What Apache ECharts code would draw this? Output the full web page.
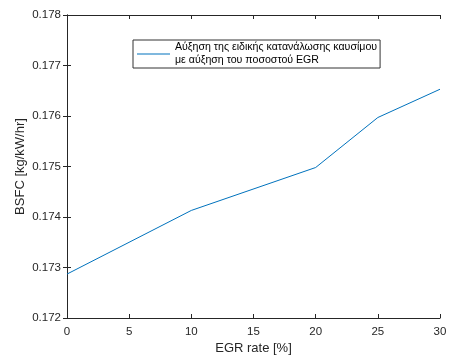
<!DOCTYPE html>
<html><head><meta charset="utf-8">
<script src="https://cdn.jsdelivr.net/npm/echarts@6/dist/echarts.min.js"></script>
<style>html,body{margin:0;padding:0;background:#fff}#c{width:452px;height:358px}</style>
</head><body><div id="c"></div>
<script>
const egrRate = [0, 10, 20, 25, 30];
const bsfc = [0.17287, 0.17413, 0.17498, 0.17597, 0.17653];
const seriesName = 'Αύξηση της ειδικής κατανάλωσης καυσίμου\nμε αύξηση του ποσοστού EGR';
const xName = 'EGR rate [%]';
const yName = 'BSFC [kg/kW/hr]';

const axisColor = '#262626';
const font = 'Liberation Sans, Arial, sans-serif';
const chart = echarts.init(document.getElementById('c'), null, {renderer: 'canvas'});
const baseX = {type: 'value', min: 0, max: 30, interval: 5,
  axisLine: {show: true, lineStyle: {color: axisColor, width: 1}},
  axisTick: {show: true, inside: true, length: 4, lineStyle: {color: axisColor}},
  splitLine: {show: false}};
const baseY = {type: 'value', min: 0.172, max: 0.178, interval: 0.001,
  axisLine: {show: true, lineStyle: {color: axisColor, width: 1}},
  axisTick: {show: true, inside: true, length: 4, lineStyle: {color: axisColor}},
  splitLine: {show: false}};
chart.setOption({
  animation: false,
  backgroundColor: '#fff',
  grid: {left: 67, right: 12, top: 15, bottom: 40, containLabel: false, outerBoundsMode: 'none'},
  xAxis: [
    Object.assign({}, baseX, {position: 'bottom', name: xName, nameLocation: 'middle', nameGap: 24,
      nameMoveOverlap: false,
      nameTextStyle: {color: axisColor, fontSize: 13, fontFamily: font},
      axisLabel: {color: axisColor, fontSize: 11.5, fontFamily: font, margin: 8}}),
    Object.assign({}, baseX, {position: 'top', axisLabel: {show: false}})
  ],
  yAxis: [
    Object.assign({}, baseY, {position: 'left', name: yName, nameLocation: 'middle', nameGap: 40,
      nameMoveOverlap: false,
      nameTextStyle: {color: axisColor, fontSize: 13, fontFamily: font},
      axisLabel: {color: axisColor, fontSize: 11.5, fontFamily: font, margin: 6,
        formatter: v => v.toFixed(3)}}),
    Object.assign({}, baseY, {position: 'right', axisLabel: {show: false}})
  ],
  legend: {
    show: true, left: 133, top: 40, orient: 'vertical',
    backgroundColor: '#fff', borderColor: '#333', borderWidth: 1,
    padding: [1, 3, 1, 4], itemWidth: 33, itemHeight: 1, itemGap: 0,
    icon: 'rect',
    itemStyle: {color: '#0072BD'},
    textStyle: {color: '#000', fontSize: 10.6, fontFamily: font, lineHeight: 13},
    data: [{name: seriesName}]
  },
  series: [{
    name: seriesName, type: 'line', symbol: 'none', showSymbol: false,
    data: egrRate.map((x, i) => [x, bsfc[i]]),
    lineStyle: {color: '#0072BD', width: 1}, itemStyle: {color: '#0072BD'}
  }]
});
</script></body></html>
